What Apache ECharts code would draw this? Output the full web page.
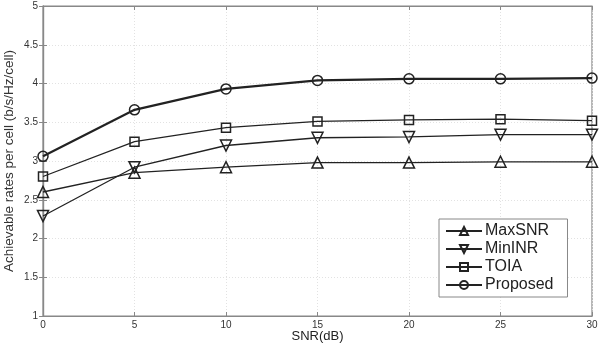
<!DOCTYPE html>
<html>
<head>
<meta charset="utf-8">
<script src="https://cdn.jsdelivr.net/npm/echarts@6/dist/echarts.min.js"></script>
<style>
  html, body { margin: 0; padding: 0; background: #fff; }
  #chart { width: 609px; height: 343px; }
</style>
</head>
<body>
<div id="chart"></div>
<script>
const snr = [0, 5, 10, 15, 20, 25, 30];
const maxSNR = [2.60, 2.85, 2.92, 2.98, 2.98, 2.99, 2.99];
const minINR = [2.29, 2.92, 3.20, 3.30, 3.31, 3.34, 3.34];
const toia = [2.80, 3.25, 3.43, 3.51, 3.53, 3.54, 3.52];
const proposed = [3.06, 3.66, 3.93, 4.04, 4.06, 4.06, 4.07];

const font = '"Liberation Sans", Arial, sans-serif';
const downTriangle = 'path://M0,0 L10,0 L5,9 Z';

function pairs(values) {
  return snr.map((x, i) => [x, values[i]]);
}

function lineSeries(name, values, symbol, width, size) {
  return {
    name: name,
    type: 'line',
    data: pairs(values),
    symbol: symbol,
    symbolSize: size,
    showAllSymbol: true,
    lineStyle: { color: '#222', width: width },
    itemStyle: { color: 'rgba(255,255,255,0)', borderColor: '#222', borderWidth: 1.5 },
    emphasis: { disabled: true },
    z: 3
  };
}

const chart = echarts.init(document.getElementById('chart'), null, { renderer: 'canvas' });

const axisLine = { show: true, lineStyle: { color: '#888', width: 1.2 } };
const tick = { show: true, inside: true, length: 4, lineStyle: { color: '#888' } };

chart.setOption({
  animation: false,
  grid: {
    left: 43, right: 17, top: 6, bottom: 27,
    outerBoundsMode: 'none', containLabel: false,
    show: true, borderColor: '#888', borderWidth: 1.2
  },
  xAxis: [
    {
      type: 'value', min: 0, max: 30, interval: 5,
      axisLine: axisLine, axisTick: tick,
      axisLabel: { color: '#333', fontFamily: font, fontSize: 10, margin: 4 },
      splitLine: { show: true, lineStyle: { color: '#e2e2e2', type: [1, 2] } },
      name: 'SNR(dB)', nameLocation: 'middle', nameGap: 14, nameMoveOverlap: false,
      nameTextStyle: { color: '#222', fontFamily: font, fontSize: 13 }
    },
    {
      type: 'value', min: 0, max: 30, interval: 5, position: 'top',
      axisLine: axisLine, axisTick: tick, axisLabel: { show: false }, splitLine: { show: false }
    }
  ],
  yAxis: [
    {
      type: 'value', min: 1, max: 5, interval: 0.5,
      axisLine: axisLine, axisTick: tick,
      axisLabel: { color: '#333', fontFamily: font, fontSize: 10, margin: 5 },
      splitLine: { show: true, lineStyle: { color: '#e2e2e2', type: [1, 2] } },
      name: 'Achievable rates per cell (b/s/Hz/cell)', nameLocation: 'middle', nameGap: 27,
      nameMoveOverlap: false,
      nameTextStyle: { color: '#333', fontFamily: font, fontSize: 13.5 }
    },
    {
      type: 'value', min: 1, max: 5, interval: 0.5, position: 'right',
      axisLine: axisLine, axisTick: tick, axisLabel: { show: false }, splitLine: { show: false }
    }
  ],
  legend: {
    orient: 'vertical',
    left: 439, top: 219,
    padding: [4, 14, 4, 6],
    itemGap: 2,
    itemWidth: 36, itemHeight: 10,
    borderColor: '#888', borderWidth: 1,
    backgroundColor: '#fff',
    textStyle: { color: '#222', fontFamily: font, fontSize: 16, padding: [0, 0, 0, -2] },
    data: ['MaxSNR', 'MinINR', 'TOIA', 'Proposed']
  },
  series: [
    lineSeries('MaxSNR', maxSNR, 'triangle', 1.3, 11),
    lineSeries('MinINR', minINR, downTriangle, 1.3, 11),
    lineSeries('TOIA', toia, 'rect', 1.3, 9),
    lineSeries('Proposed', proposed, 'circle', 2.2, 10)
  ]
});
</script>
</body>
</html>
